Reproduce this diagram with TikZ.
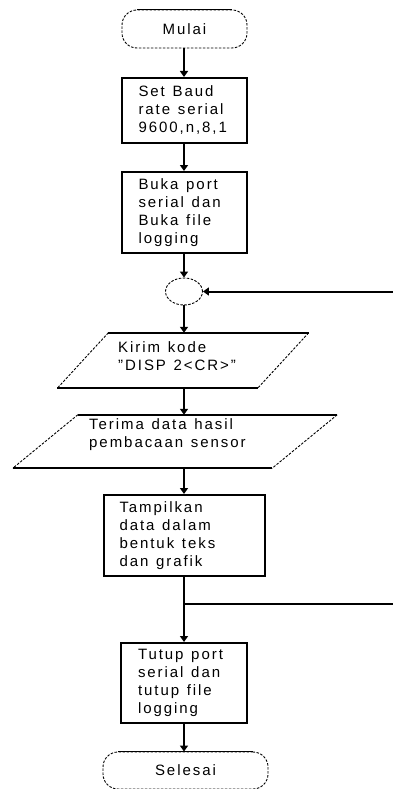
\documentclass[tikz,border=0pt]{standalone}
\usepackage{fontspec}
\setmainfont{Liberation Sans}[LetterSpace=13,WordSpace=1.25]
\usetikzlibrary{arrows.meta,shapes.geometric,calc}
\hfuzz=200pt
\newcommand\boxline[1]{\mbox{\spaceskip=0pt\xspaceskip=0pt\relax #1}}
\begin{document}
\begin{tikzpicture}[x=1pt,y=-1pt,
  every node/.style={font=\fontsize{15}{18}\selectfont},
  flow/.style={line width=2pt},
  arr/.style={line width=2pt,-{Triangle[width=8pt,length=6pt]}},
  procbox/.style={draw,line width=2pt,align=left,inner xsep=0pt,inner ysep=0pt},
  termbox/.style={draw,line width=0.9pt,dash pattern=on 2.5pt off 1.5pt,rounded corners=15pt,inner sep=0pt},
  dotline/.style={line width=0.9pt,dash pattern=on 2.5pt off 1.5pt},
  solidedge/.style={line width=1.6pt}]
\useasboundingbox (0,0) rectangle (393,789);
% start
\node[termbox,minimum width=125,minimum height=38] (mulai) at (184.5,29) {Mulai};
\draw[solidedge] ($(mulai.north west)+(15,0)$) -- ($(mulai.north east)+(-15,0)$);
% boxes
\node[procbox,minimum width=125,minimum height=65,text width=91] (b1) at (184,110.5)
  {\boxline{Set Baud}\\\boxline{rate serial}\\\boxline{9600,n,8,1}};
\node[procbox,minimum width=125,minimum height=81,text width=91] (b2) at (184,212.5)
  {\boxline{Buka port}\\\boxline{serial dan}\\\boxline{Buka file}\\\boxline{logging}};
% connector circle
\node[draw,ellipse,line width=0.9pt,dash pattern=on 2.5pt off 1.5pt,minimum width=37,minimum height=27,inner sep=0pt] (c) at (184,291.5) {};
% parallelogram 1
\node[minimum width=200,minimum height=55,inner sep=0pt] (p1) at (183,360.5) {};
\draw[solidedge] ($(p1.north west)+(25.5,0)$) -- ($(p1.north east)+(25.5,0)$);
\draw[line width=2pt] ($(p1.south west)+(-25.5,0)$) -- ($(p1.south east)+(-25.5,0)$);
\draw[dotline] ($(p1.north west)+(25.5,0)$) -- ($(p1.south west)+(-25.5,0)$);
\draw[dotline] ($(p1.north east)+(25.5,0)$) -- ($(p1.south east)+(-25.5,0)$);
\node[anchor=west,align=left,inner sep=0pt] (p1t) at (118,356) {\boxline{Kirim kode}\\\boxline{"DISP 2<CR>"}};
% parallelogram 2
\node[minimum width=259,minimum height=53,inner sep=0pt] (p2) at (175,441.5) {};
\draw[solidedge] ($(p2.north west)+(32.5,0)$) -- ($(p2.north east)+(32.5,0)$);
\draw[line width=2pt] ($(p2.south west)+(-32.5,0)$) -- ($(p2.south east)+(-32.5,0)$);
\draw[dotline] ($(p2.north west)+(32.5,0)$) -- ($(p2.south west)+(-32.5,0)$);
\draw[dotline] ($(p2.north east)+(32.5,0)$) -- ($(p2.south east)+(-32.5,0)$);
\node[anchor=west,align=left,inner sep=0pt] (p2t) at (89,435) {\boxline{Terima data hasil}\\\boxline{pembacaan sensor}};
% box 3 and 4
\node[procbox,minimum width=161,minimum height=81,text width=129] (b3) at (184,535.5)
  {\boxline{Tampilkan}\\\boxline{data dalam}\\\boxline{bentuk teks}\\\boxline{dan grafik}};
\node[procbox,minimum width=126,minimum height=80,text width=92] (b4) at (184,683)
  {\boxline{Tutup port}\\\boxline{serial dan}\\\boxline{tutup file}\\\boxline{logging}};
% end
\node[termbox,minimum width=165,minimum height=37] (selesai) at (185.5,770.5) {Selesai};
\draw[solidedge] ($(selesai.north west)+(15,0)$) -- ($(selesai.north east)+(-15,0)$);
% connectors
\draw[arr] (mulai.south -| b1.north) -- (b1.north);
\draw[arr] (b1.south) -- (b2.north);
\draw[arr] (b2.south) -- (c.north);
\draw[arr] (c.south) -- (c.south |- p1.north);
\draw[arr] (c.south |- p1.south) -- (c.south |- p2.north);
\draw[arr] (b3.north |- p2.south) -- (b3.north);
\draw[arr] (b3.south) -- (b4.north);
\draw[arr] (b4.south) -- (b4.south |- selesai.north);
% feedback
\coordinate (r1) at (393,291.5);
\coordinate (r2) at (393,604);
\coordinate (j) at (184,604);
\draw[arr] (r1) -- (c.east);
\draw[flow] (j) -- (r2);
\end{tikzpicture}
\end{document}
